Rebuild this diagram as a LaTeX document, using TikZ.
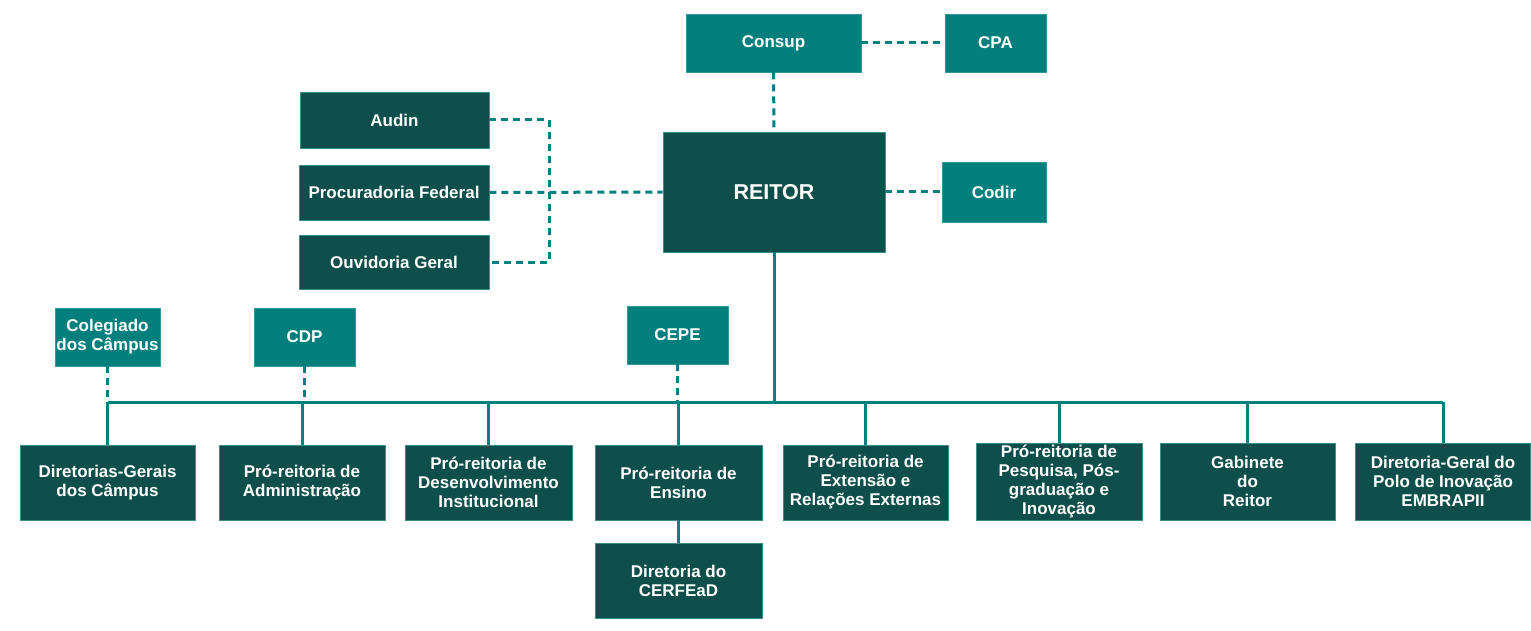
\documentclass[tikz,border=0pt]{standalone}
\usepackage{fontspec}
\setmainfont{Liberation Sans}
\definecolor{deepgreen}{HTML}{0E4F4B}
\definecolor{tealbox}{HTML}{007F7D}
\definecolor{tealline}{HTML}{00817F}
\definecolor{boxedge}{HTML}{3A8F86}
\begin{document}
\begin{tikzpicture}[x=1pt,y=-1pt,
  box/.style={text=white, font=\bfseries\fontsize{17}{19}\selectfont,
    align=center, inner sep=0pt, line width=0.8pt},
  darkbox/.style={box, fill=deepgreen, draw=boxedge},
  lightbox/.style={box, fill=tealbox, draw=tealbox!80!white},
  link/.style={draw=tealline, line width=3pt},
  dlink/.style={link, dash pattern=on 7pt off 5pt}]
\useasboundingbox (0,0) rectangle (1531,631);

% upper level
\node[lightbox, minimum width=175pt, minimum height=58pt] (consup) at (773.5,43) {Consup};
\node[lightbox, minimum width=101pt, minimum height=58pt] (cpa) at (995.5,43) {CPA};
\node[darkbox, minimum width=222pt, minimum height=120pt,
  font=\bfseries\fontsize{21.5}{24}\selectfont] (reitor) at (774,192) {REITOR};
\node[lightbox, minimum width=104pt, minimum height=60pt] (codir) at (994,192) {Codir};
\node[darkbox, minimum width=189pt, minimum height=56pt] (audin) at (394.5,120) {Audin};
\node[darkbox, minimum width=190pt, minimum height=55pt] (procur) at (394,192.5) {Procuradoria Federal};
\node[darkbox, minimum width=190pt, minimum height=54pt] (ouvid) at (394,262) {Ouvidoria Geral};

% councils
\node[lightbox, minimum width=105pt, minimum height=58pt] (coleg) at (107.5,337) {Colegiado\\dos Câmpus};
\node[lightbox, minimum width=101pt, minimum height=58pt] (cdp) at (304.5,337) {CDP};
\node[lightbox, minimum width=101pt, minimum height=58pt] (cepe) at (677.5,335) {CEPE};

% lower level
\node[darkbox, minimum width=175pt, minimum height=75pt] (dg) at (107.5,482.5) {Diretorias-Gerais\\dos Câmpus};
\node[darkbox, minimum width=166pt, minimum height=75pt] (adm) at (302,482.5) {Pró-reitoria de\\Administração};
\node[darkbox, minimum width=167pt, minimum height=75pt] (des) at (488.5,482.5) {Pró-reitoria de\\Desenvolvimento\\Institucional};
\node[darkbox, minimum width=167pt, minimum height=75pt] (ens) at (678.5,482.5) {Pró-reitoria de\\Ensino};
\node[darkbox, minimum width=165pt, minimum height=75pt] (ext) at (865.5,482.5) {Pró-reitoria de\\Extensão e\\Relações Externas};
\node[darkbox, minimum width=166pt, minimum height=77pt] (pesq) at (1059,481.5) {Pró-reitoria de\\Pesquisa, Pós-\\graduação e\\Inovação};
\node[darkbox, minimum width=175pt, minimum height=77pt] (gab) at (1247.5,481.5) {Gabinete\\do\\Reitor};
\node[darkbox, minimum width=175pt, minimum height=77pt] (polo) at (1443,481.5) {Diretoria-Geral do\\Polo de Inovação\\EMBRAPII};
\node[darkbox, minimum width=167pt, minimum height=75pt] (cerf) at (678.5,580.5) {Diretoria do\\CERFEaD};

% bus line and anchors
\coordinate (busL) at (107.5,402);
\coordinate (busR) at (1443,402);
\coordinate (brk) at (549,192);

% dashed advisory links
\draw[dlink] (consup.east) -- (cpa.west);
\draw[dlink] (consup.south) -- (reitor.north);
\draw[dlink] (reitor.east) -- (codir.west);
\draw[dlink] (procur.east) -- (reitor.west);
\draw[dlink] (audin.east) -| (brk) |- (ouvid.east);
\draw[dlink] (coleg.south) -- (coleg.south |- busL);
\draw[dlink] (cdp.south) -- (cdp.south |- busL);
\draw[dlink] (cepe.south) -- (cepe.south |- busL);

% solid hierarchy links
\draw[link] (reitor.south) -- (reitor.south |- busL);
\draw[link] (busL) -- (busR);
\foreach \n in {dg,adm,des,ens,ext,pesq,gab,polo}
  \draw[link] (\n.north) -- (\n.north |- busL);
\draw[link] (ens.south) -- (cerf.north);
\end{tikzpicture}
\end{document}
